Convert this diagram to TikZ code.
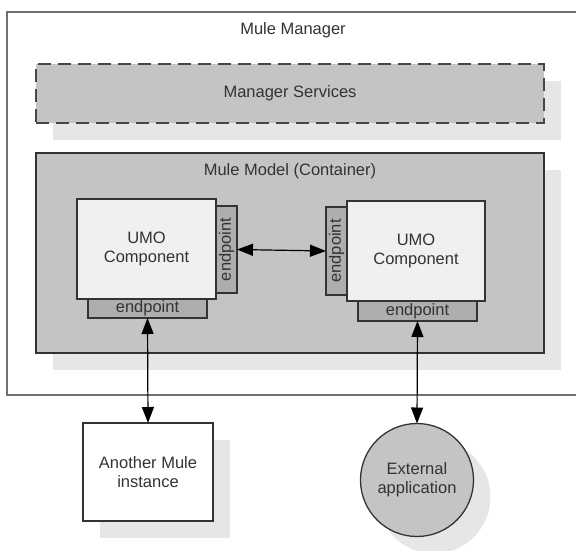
\documentclass[tikz,border=0pt]{standalone}
\usepackage{fontspec}
\setmainfont{Liberation Sans}
\usetikzlibrary{arrows.meta,shadows}
\definecolor{boxgray}{HTML}{C4C4C4}
\definecolor{shadegray}{HTML}{E6E6E6}
\definecolor{umofill}{HTML}{F0F0F0}
\definecolor{epfill}{HTML}{AEAEAE}
\definecolor{edgecol}{HTML}{333333}
\definecolor{txtcol}{HTML}{333333}
\definecolor{outeredge}{HTML}{707070}
\begin{document}
\begin{tikzpicture}[x=1pt,y=-1pt,
  every node/.style={font=\fontsize{16.5}{19}\selectfont, text=txtcol, inner sep=0pt, outer sep=0pt, align=center},
  boxed/.style={rectangle, draw=edgecol, line width=1.3pt},
  shaded/.style={drop shadow={shadow xshift=17pt, shadow yshift=-17pt, fill=shadegray, opacity=1}},
  umo/.style={boxed, fill=umofill, minimum width=139pt, minimum height=100pt},
  epbox/.style={boxed, fill=epfill, line width=1.2pt},
  conn/.style={draw=black, line width=1.2pt, {Triangle[length=16pt,width=12pt]}-{Triangle[length=16pt,width=12pt]}}
]
\useasboundingbox (0,0) rectangle (576,550);
\clip (0,0) rectangle (576,550);

% outer manager box
\node (mgr) [rectangle, draw=outeredge, line width=1.6pt, fill=white, minimum width=583pt, minimum height=383pt] at (298.5,203.5) {};
\node (mgrlabel) [anchor=base] at (293,34.5) {Mule Manager};

% manager services
\node (svc) [rectangle, fill=boxgray, draw=edgecol!90, line width=2pt, dash pattern=on 13pt off 7pt, shaded, minimum width=508pt, minimum height=59pt] at (290,93.5) {Manager Services};

% model container
\node (model) [boxed, fill=boxgray, shaded, minimum width=508pt, minimum height=200pt] at (290,253) {};
\node (modellabel) [anchor=base] at (290,175) {Mule Model (Container)};

% left component
\node (umo1) [umo] at (146.5,249) {UMO\\Component};
\node (ep1r) [epbox, minimum width=21pt, minimum height=87pt] at (226.5,249.5) {\rotatebox{90}{endpoint}};
\node (ep1b) [epbox, minimum width=119pt, minimum height=19pt] at (147.5,308.5) {endpoint};

% right component
\node (umo2) [umo, minimum width=138pt] at (416,251) {UMO\\Component};
\node (ep2l) [epbox, minimum width=21pt, minimum height=88pt] at (336.5,251) {\rotatebox{90}{endpoint}};
\node (ep2b) [epbox, minimum width=119pt, minimum height=20pt] at (417.5,311) {endpoint};

% external things
\node (inst) [boxed, fill=white, shaded, minimum width=130pt, minimum height=98pt] at (148,472) {Another Mule\\instance};
\node (ext) [circle, draw=edgecol, line width=1.3pt, fill=boxgray, shaded, minimum size=113pt] at (417,480) {External\\application};

% connectors
\draw[conn] (ep1r.east) -- (ep2l.west);
\draw[conn] (ep1b.south) -- (inst.north);
\draw[conn] (ep2b.south) -- (ext.north);
\end{tikzpicture}
\end{document}
